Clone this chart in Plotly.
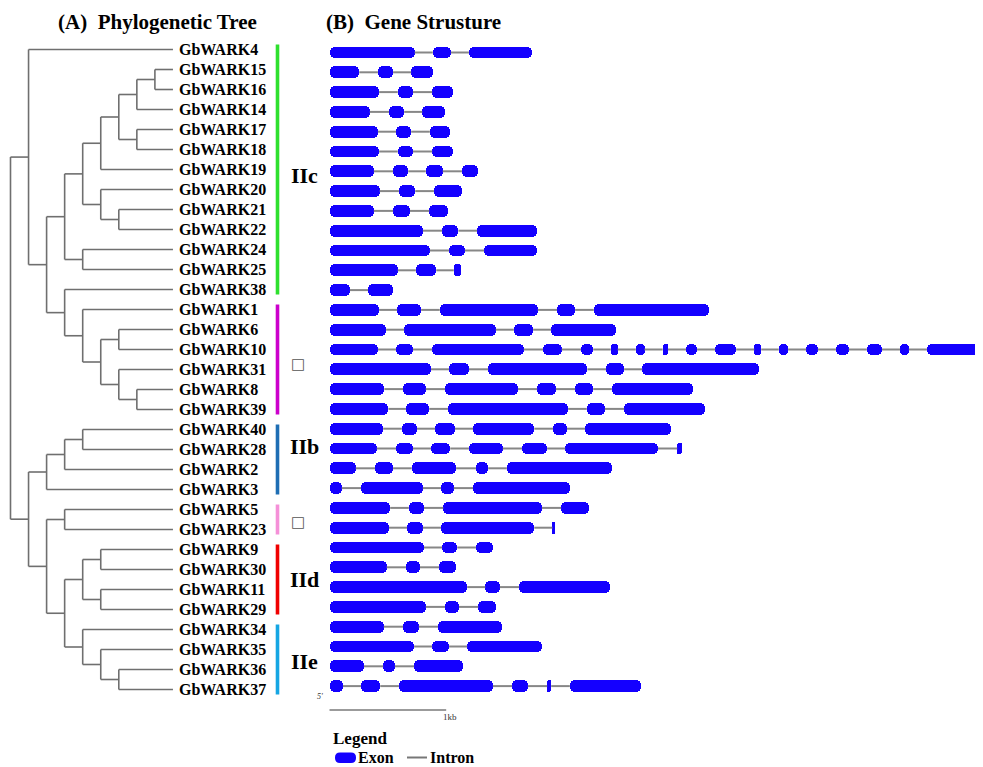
import plotly.graph_objects as go

# ---------------- DATA ----------------
# phylogeny (nested clades, leaves are gene names)
CLADE_IIC_CORE = [[[[[["GbWARK15", "GbWARK16"], "GbWARK14"], ["GbWARK17", "GbWARK18"]], "GbWARK19"],
                   ["GbWARK20", ["GbWARK21", "GbWARK22"]]],
                  ["GbWARK24", "GbWARK25"]]
CLADE_IIA = ["GbWARK38", ["GbWARK1", [["GbWARK6", "GbWARK10"], ["GbWARK31", ["GbWARK8", "GbWARK39"]]]]]
CLADE_TOP = ["GbWARK4", [CLADE_IIC_CORE, CLADE_IIA]]
CLADE_IIB = [[["GbWARK40", "GbWARK28"], "GbWARK2"], "GbWARK3"]
CLADE_LOW = [["GbWARK5", "GbWARK23"],
             [[["GbWARK9", "GbWARK30"], ["GbWARK11", "GbWARK29"]],
              ["GbWARK34", ["GbWARK35", ["GbWARK36", "GbWARK37"]]]]]
TREE = [CLADE_TOP, [CLADE_IIB, CLADE_LOW]]

GENE_ORDER = ["GbWARK4", "GbWARK15", "GbWARK16", "GbWARK14", "GbWARK17", "GbWARK18", "GbWARK19",
              "GbWARK20", "GbWARK21", "GbWARK22", "GbWARK24", "GbWARK25", "GbWARK38", "GbWARK1",
              "GbWARK6", "GbWARK10", "GbWARK31", "GbWARK8", "GbWARK39", "GbWARK40", "GbWARK28",
              "GbWARK2", "GbWARK3", "GbWARK5", "GbWARK23", "GbWARK9", "GbWARK30", "GbWARK11",
              "GbWARK29", "GbWARK34", "GbWARK35", "GbWARK36", "GbWARK37"]

# exon coordinates (bp from 5' end), aligned with GENE_ORDER
EXON_STARTS = [
    [0, 885, 1195], [0, 415, 700], [0, 585, 880], [0, 510, 795], [0, 570, 860], [0, 585, 880],
    [0, 545, 825, 1135], [0, 595, 895], [0, 545, 855], [0, 965, 1265], [0, 1025, 1325],
    [0, 740, 1065], [0, 330],
    [0, 580, 945, 1950, 2265], [0, 640, 1580, 1900],
    [0, 570, 880, 1830, 2155, 2410, 2625, 2855, 3055, 3305, 3640, 3850, 4085, 4340, 4605, 4890, 5120],
    [0, 1025, 1360, 2370, 2680], [0, 630, 990, 1780, 2105, 2420], [0, 655, 1015, 2205, 2525],
    [0, 620, 905, 1230, 1915, 2190], [0, 570, 870, 1195, 1650, 2020, 2980],
    [0, 390, 705, 1255, 1520], [0, 270, 955, 1230],
    [0, 680, 975, 1985], [0, 665, 955, 1910],
    [0, 965, 1255], [0, 655, 940], [0, 1335, 1625], [0, 990, 1275],
    [0, 630, 930], [0, 880, 1180], [0, 460, 725], [0, 270, 595, 1565, 1865, 2060],
]
EXON_ENDS = [
    [730, 1040, 1735], [255, 545, 890], [425, 715, 1060], [345, 640, 990], [415, 700, 1030], [425, 715, 1060],
    [380, 675, 970, 1270], [430, 735, 1135], [380, 690, 1015], [800, 1105, 1780], [860, 1160, 1780],
    [585, 915, 1125], [175, 545],
    [425, 785, 1785, 2105, 3250], [485, 1425, 1745, 2455],
    [415, 715, 1665, 1990, 2260, 2470, 2700, 2900, 3150, 3485, 3700, 3930, 4185, 4450, 4735, 4965, 5650],
    [870, 1195, 2210, 2525, 3680], [470, 825, 1615, 1940, 2260, 3115], [505, 855, 2045, 2360, 3220],
    [460, 750, 1075, 1755, 2035, 2925], [405, 715, 1035, 1485, 1865, 2815, 3020],
    [225, 545, 1085, 1360, 2420], [105, 800, 1065, 2060],
    [520, 810, 1820, 2225], [510, 800, 1755, 1935],
    [810, 1095, 1400], [490, 775, 1085], [1180, 1460, 2405], [825, 1110, 1425],
    [465, 765, 1480], [725, 1025, 1820], [295, 560, 1145], [115, 435, 1400, 1700, 1900, 2670],
]

GROUP_NAMES = ["IIc", "\u25a1", "IIb", "\u25a1", "IId", "IIe"]
GROUP_FIRST = ["GbWARK4", "GbWARK1", "GbWARK40", "GbWARK5", "GbWARK9", "GbWARK34"]
GROUP_LAST = ["GbWARK38", "GbWARK39", "GbWARK3", "GbWARK23", "GbWARK29", "GbWARK37"]
SCALE_BP = 1000
SCALE_LABEL = "1kb"

# ---------------- LAYOUT / STYLE ----------------
PAGE_W, PAGE_H = 983, 767
OX, OY = 8, 8                      # page body margin of the html page
FIG_W, FIG_H = PAGE_W - OX, PAGE_H - OY
X0_T, DX_T = 10.5, 18.05          # tree: page px of depth 0, px per depth level
ROW0_T, ROW_T = 49.5, 20.0        # tree rows: page px of row 0, px per row
X0_G, BP_PER_PX = 329.5, 8.57     # gene structure axis
ROW0_G, ROW_G = 52.5, 19.8
MAX_DEPTH = 9
SERIF = "Liberation Serif"
TREE_COLOR = "#6f6f6f"
EXON_COLOR = "#1400FF"
INTRON_COLOR = "#878787"
GROUP_COLORS = ["#2EE02E", "#CC00CC", "#1E6EB4", "#F590D8", "#F00000", "#15A6E3"]
GROUP_BAR_X = 277.5
GROUP_LABEL_X = 304
GROUP_LABEL_Y = [175.7, 364, 447, 521.5, 579, 661.7]
SCALE_Y = 710


def px(x):
    return (x - OX) / FIG_W


def py(y):
    return 1 - (y - OY) / FIG_H


row_of = {g: i for i, g in enumerate(GENE_ORDER)}

# ---------------- tree geometry ----------------
tx, ty = [], []
leaf_seen = []


def place(node, depth):
    if isinstance(node, str):
        leaf_seen.append(node)
        return MAX_DEPTH, row_of[node]
    kids = [place(c, depth + 1) for c in node]
    ys = [k[1] for k in kids]
    tx.extend([depth, depth, None])
    ty.extend([min(ys), max(ys), None])
    for kx, ky in kids:
        tx.extend([depth, kx, None])
        ty.extend([ky, ky, None])
    return depth, (ys[0] + ys[-1]) / 2


place(TREE, 0)
assert leaf_seen == GENE_ORDER

fig = go.Figure()
fig.add_trace(go.Scatter(x=tx, y=ty, mode="lines", line=dict(color=TREE_COLOR, width=1.6),
                         hoverinfo="skip", showlegend=False, xaxis="x", yaxis="y"))

# ---------------- gene structures ----------------
bx, bbase, by = [], [], []
ix, iy = [], []
for i, (st, en) in enumerate(zip(EXON_STARTS, EXON_ENDS)):
    for s, e in zip(st, en):
        by.append(i)
        bbase.append(s)
        bx.append(e - s)
    for k in range(len(st) - 1):
        ix.extend([en[k], st[k + 1], None])
        iy.extend([i, i, None])

fig.add_trace(go.Scatter(x=ix, y=iy, mode="lines", line=dict(color=INTRON_COLOR, width=2),
                         hoverinfo="skip", showlegend=False, xaxis="x2", yaxis="y2"))
fig.add_trace(go.Bar(orientation="h", x=bx, base=bbase, y=by, width=0.6,
                     marker=dict(color=EXON_COLOR, line=dict(width=0), cornerradius=5),
                     hoverinfo="skip", showlegend=False, xaxis="x2", yaxis="y2"))

# scale bar
scale_row = (SCALE_Y - ROW0_G) / ROW_G
fig.add_trace(go.Scatter(x=[0, SCALE_BP], y=[scale_row, scale_row], mode="lines",
                         line=dict(color="#7a7a7a", width=1.5),
                         hoverinfo="skip", showlegend=False, xaxis="x2", yaxis="y2"))

annotations = []
shapes = []

# gene labels
for g in GENE_ORDER:
    annotations.append(dict(x=MAX_DEPTH, y=row_of[g], xref="x", yref="y", text="<b>%s</b>" % g,
                            xanchor="left", yanchor="middle", xshift=4, showarrow=False,
                            font=dict(family=SERIF, size=16, color="black")))

# group bars and labels
for name, first, last, col, ly in zip(GROUP_NAMES, GROUP_FIRST, GROUP_LAST, GROUP_COLORS, GROUP_LABEL_Y):
    shapes.append(dict(type="line", xref="paper", yref="y", x0=px(GROUP_BAR_X), x1=px(GROUP_BAR_X),
                       y0=row_of[first] - 0.25, y1=row_of[last] + 0.25,
                       line=dict(color=col, width=3.6)))
    if name == "\u25a1":
        annotations.append(dict(x=px(GROUP_LABEL_X - 6), y=py(ly), xref="paper", yref="paper", text=name,
                                showarrow=False, xanchor="center", yanchor="middle",
                                font=dict(family="DejaVu Sans", size=15, color="#555555")))
    else:
        annotations.append(dict(x=px(GROUP_LABEL_X), y=py(ly), xref="paper", yref="paper",
                                text="<b>%s</b>" % name, showarrow=False, xanchor="center", yanchor="middle",
                                font=dict(family=SERIF, size=22, color="black")))

# titles
annotations.append(dict(x=px(157), y=py(22), xref="paper", yref="paper",
                        text="<b>(A)\u00a0 Phylogenetic Tree</b>", showarrow=False, borderpad=0,
                        xanchor="center", yanchor="middle", font=dict(family=SERIF, size=21, color="black")))
annotations.append(dict(x=px(325), y=py(22), xref="paper", yref="paper",
                        text="<b>(B)\u00a0 Gene Strusture</b>", showarrow=False, borderpad=0,
                        xanchor="left", yanchor="middle", font=dict(family=SERIF, size=21, color="black")))

# scale annotations
annotations.append(dict(x=px(450), y=py(717), xref="paper", yref="paper", text=SCALE_LABEL,
                        showarrow=False, xanchor="center", yanchor="middle",
                        font=dict(family=SERIF, size=9, color="#333333")))
annotations.append(dict(x=px(320), y=py(696), xref="paper", yref="paper", text="<i>5'</i>",
                        showarrow=False, xanchor="center", yanchor="middle",
                        font=dict(family=SERIF, size=8, color="#333333")))

# legend
annotations.append(dict(x=px(331), y=py(738), xref="paper", yref="paper", text="<b>Legend</b>",
                        showarrow=False, xanchor="left", yanchor="middle",
                        font=dict(family=SERIF, size=17, color="black")))
annotations.append(dict(x=px(356), y=py(757.5), xref="paper", yref="paper", text="<b>Exon</b>",
                        showarrow=False, xanchor="left", yanchor="middle",
                        font=dict(family=SERIF, size=16, color="black")))
annotations.append(dict(x=px(428), y=py(757.5), xref="paper", yref="paper", text="<b>Intron</b>",
                        showarrow=False, xanchor="left", yanchor="middle",
                        font=dict(family=SERIF, size=16, color="black")))


def rounded_rect(x0, y0, x1, y1, r):
    def p(x, y):
        return "%f,%f" % (px(x), py(y))
    return ("M " + p(x0 + r, y0) + " L " + p(x1 - r, y0) + " Q " + p(x1, y0) + " " + p(x1, y0 + r) +
            " L " + p(x1, y1 - r) + " Q " + p(x1, y1) + " " + p(x1 - r, y1) +
            " L " + p(x0 + r, y1) + " Q " + p(x0, y1) + " " + p(x0, y1 - r) +
            " L " + p(x0, y0 + r) + " Q " + p(x0, y0) + " " + p(x0 + r, y0) + " Z")


shapes.append(dict(type="path", xref="paper", yref="paper", path=rounded_rect(335, 752.5, 356, 763, 5),
                   fillcolor=EXON_COLOR, line=dict(width=0)))
shapes.append(dict(type="line", xref="paper", yref="paper", x0=px(407), x1=px(427), y0=py(757.5),
                   y1=py(757.5), line=dict(color="#777777", width=2)))

hidden = dict(visible=False, showgrid=False, zeroline=False, fixedrange=True)
fig.update_layout(
    width=FIG_W, height=FIG_H, autosize=False,
    margin=dict(l=0, r=0, t=0, b=0, pad=0),
    paper_bgcolor="white", plot_bgcolor="rgba(0,0,0,0)",
    barmode="overlay", bargap=0,
    xaxis=dict(domain=[0, 1], range=[(OX - X0_T) / DX_T, (PAGE_W - X0_T) / DX_T], anchor="y", **hidden),
    yaxis=dict(domain=[0, 1], range=[(PAGE_H - ROW0_T) / ROW_T, (OY - ROW0_T) / ROW_T], anchor="x", **hidden),
    xaxis2=dict(domain=[0, 1], range=[(OX - X0_G) * BP_PER_PX, (PAGE_W - X0_G) * BP_PER_PX],
                anchor="y2", **hidden),
    yaxis2=dict(domain=[0, 1], range=[(PAGE_H - ROW0_G) / ROW_G, (OY - ROW0_G) / ROW_G],
                anchor="x2", **hidden),
    annotations=annotations,
    shapes=shapes,
)

fig.write_html("out.html")
